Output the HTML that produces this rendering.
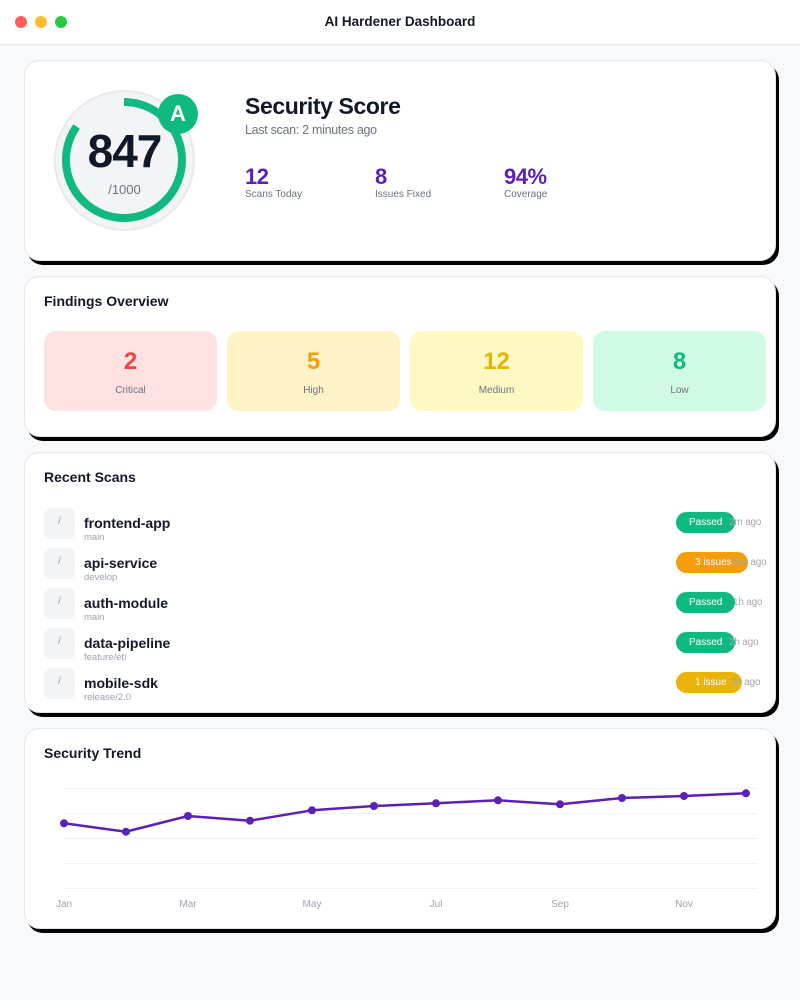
<!DOCTYPE html>
<html><head><meta charset="utf-8">
<style>
*{margin:0;padding:0;box-sizing:border-box}
html,body{width:800px;height:1000px;overflow:hidden;background:#f8f9fb;font-family:"Liberation Sans",sans-serif;color:#111827}
.hdr{position:absolute;left:0;top:0;width:800px;height:45px;background:#fff;border-bottom:1px solid #e5e7eb}
.dot{position:absolute;top:16px;width:12px;height:12px;border-radius:50%}
.htitle{position:absolute;left:0;width:800px;top:14px;text-align:center;font-size:13.5px;font-weight:bold;line-height:16px;color:#111827}
.card{position:absolute;left:24px;width:752px;background:#fff;border:1px solid #e5e7eb;border-radius:16px;box-shadow:3px 4px 0 #000}
.abs{position:absolute}
.ct{position:absolute;left:19px;font-size:14px;font-weight:bold;line-height:16px;top:16px;color:#111827}
.num{font-weight:bold;color:#5b21b6;font-size:22px;line-height:22px;letter-spacing:-0.5px}
.lbl{font-size:10px;color:#6b7280;line-height:12px}
.box{position:absolute;top:54px;width:173px;height:80px;border-radius:12px;text-align:center}
.box .n{position:absolute;left:0;right:0;top:18px;font-size:24px;font-weight:bold;line-height:26px}
.box .l{position:absolute;left:0;right:0;top:54px;font-size:10px;color:#6b7280;line-height:12px}
.icon{position:absolute;left:19px;width:31px;height:31px;border-radius:6px;background:#f3f4f6;color:#9ca3af;font-size:10px;text-align:center;line-height:28px}
.name{position:absolute;left:59px;font-size:14px;font-weight:bold;line-height:16px;color:#111827}
.br{position:absolute;left:59px;font-size:9.5px;color:#9ca3af;line-height:11px}
.badge{position:absolute;left:651px;height:21px;border-radius:11px;color:#fff;font-size:10px;line-height:21px}
.time{position:absolute;left:704px;font-size:10px;color:#a3a8b3;line-height:12px;letter-spacing:-0.2px}
</style></head><body>
<div class="hdr">
  <div class="dot" style="left:15px;background:#ff5f57"></div>
  <div class="dot" style="left:35px;background:#febc2e"></div>
  <div class="dot" style="left:55px;background:#28c840"></div>
  <div class="htitle">AI Hardener Dashboard</div>
</div>

<!-- Card 1 -->
<div class="card" style="top:60px;height:201px">
  <div class="abs" style="left:29px;top:29px;width:141px;height:141px;border-radius:50%;background:#f3f4f6;border:2px solid #e9eaee"></div>
  <svg class="abs" style="left:-1px;top:-1px" width="200" height="200">
    <circle cx="100" cy="100" r="58" fill="none" stroke="#10b981" stroke-width="8" stroke-dasharray="308.7 400" transform="rotate(-90 100 100)"/>
  </svg>
  <div class="abs" style="left:133px;top:33px;width:40px;height:40px;border-radius:50%;background:#10b981;color:#fff;font-weight:bold;font-size:22px;line-height:40px;text-align:center">A</div>
  <div class="abs" style="left:29px;width:141px;top:64px;text-align:center;font-size:46px;font-weight:bold;line-height:52px;color:#111827;letter-spacing:-1px">847</div>
  <div class="abs" style="left:29px;width:141px;top:121px;text-align:center;font-size:13px;line-height:16px;color:#6b7280">/1000</div>
  <div class="abs" style="left:220px;top:32px;font-size:23px;font-weight:bold;line-height:26px;letter-spacing:-0.4px;color:#111827">Security Score</div>
  <div class="abs" style="left:220px;top:62px;font-size:12.5px;line-height:15px;color:#6b7280;letter-spacing:-0.3px">Last scan: 2 minutes ago</div>
  <div class="abs num" style="left:220px;top:105px">12</div>
  <div class="abs lbl" style="left:220px;top:128px">Scans Today</div>
  <div class="abs num" style="left:350px;top:105px">8</div>
  <div class="abs lbl" style="left:350px;top:128px">Issues Fixed</div>
  <div class="abs num" style="left:479px;top:105px">94%</div>
  <div class="abs lbl" style="left:479px;top:128px">Coverage</div>
</div>

<!-- Card 2 -->
<div class="card" style="top:276px;height:161px">
  <div class="ct">Findings Overview</div>
  <div class="box" style="left:19px;background:#fee2e2"><div class="n" style="color:#ef4444">2</div><div class="l">Critical</div></div>
  <div class="box" style="left:202px;background:#fef3c7"><div class="n" style="color:#f59e0b">5</div><div class="l">High</div></div>
  <div class="box" style="left:385px;background:#fef9c3"><div class="n" style="color:#eab308">12</div><div class="l">Medium</div></div>
  <div class="box" style="left:568px;background:#d1fae5"><div class="n" style="color:#10b981">8</div><div class="l">Low</div></div>
</div>

<!-- Card 3 -->
<div class="card" style="top:452px;height:261px">
  <div class="ct">Recent Scans</div>

  <div class="icon" style="top:55px">/</div>
  <div class="name" style="top:62px">frontend-app</div>
  <div class="br" style="top:79px">main</div>
  <div class="badge" style="top:59px;width:59px;padding-left:13px;background:#10b981">Passed</div>
  <div class="time" style="top:64px">2m ago</div>

  <div class="icon" style="top:95px">/</div>
  <div class="name" style="top:102px">api-service</div>
  <div class="br" style="top:119px">develop</div>
  <div class="badge" style="top:99px;width:72px;padding-left:19px;background:#f59e0b">3 issues</div>
  <div class="time" style="top:104px">15m ago</div>

  <div class="icon" style="top:135px">/</div>
  <div class="name" style="top:142px">auth-module</div>
  <div class="br" style="top:159px">main</div>
  <div class="badge" style="top:139px;width:59px;padding-left:13px;background:#10b981">Passed</div>
  <div class="time" style="top:144px;left:708px">1h ago</div>

  <div class="icon" style="top:175px">/</div>
  <div class="name" style="top:182px">data-pipeline</div>
  <div class="br" style="top:199px">feature/etl</div>
  <div class="badge" style="top:179px;width:59px;padding-left:13px;background:#10b981">Passed</div>
  <div class="time" style="top:184px">2h ago</div>

  <div class="icon" style="top:215px">/</div>
  <div class="name" style="top:222px">mobile-sdk</div>
  <div class="br" style="top:239px">release/2.0</div>
  <div class="badge" style="top:219px;width:66px;padding-left:19px;background:#eab308">1 issue</div>
  <div class="time" style="top:224px;left:706px">3h ago</div>
</div>

<!-- Card 4 -->
<div class="card" style="top:728px;height:201px">
  <div class="ct">Security Trend</div>
  <svg class="abs" style="left:-1px;top:-1px" width="752" height="200" font-family="Liberation Sans, sans-serif">
    <g stroke="#f0f1f4" stroke-width="1">
      <line x1="40" y1="60.5" x2="733" y2="60.5"/>
      <line x1="40" y1="85.5" x2="733" y2="85.5"/>
      <line x1="40" y1="110.5" x2="733" y2="110.5"/>
      <line x1="40" y1="135.5" x2="733" y2="135.5"/>
      <line x1="40" y1="160.5" x2="733" y2="160.5"/>
    </g>
    <polyline fill="none" stroke="#5b21b6" stroke-width="2.5" stroke-linejoin="round" points="40,95.3 102,103.7 164,88 226,92.7 288,82.3 350,78 412,75.3 474,72.3 536,76.3 598,70 660,68 722,65.3"/>
    <g fill="#5b21b6">
      <circle cx="40" cy="95.3" r="4"/><circle cx="102" cy="103.7" r="4"/><circle cx="164" cy="88" r="4"/>
      <circle cx="226" cy="92.7" r="4"/><circle cx="288" cy="82.3" r="4"/><circle cx="350" cy="78" r="4"/>
      <circle cx="412" cy="75.3" r="4"/><circle cx="474" cy="72.3" r="4"/><circle cx="536" cy="76.3" r="4"/>
      <circle cx="598" cy="70" r="4"/><circle cx="660" cy="68" r="4"/><circle cx="722" cy="65.3" r="4"/>
    </g>
    <g fill="#9ca3af" font-size="10" text-anchor="middle">
      <text x="40" y="179">Jan</text><text x="164" y="179">Mar</text><text x="288" y="179">May</text>
      <text x="412" y="179">Jul</text><text x="536" y="179">Sep</text><text x="660" y="179">Nov</text>
    </g>
  </svg>
</div>
</body></html>
